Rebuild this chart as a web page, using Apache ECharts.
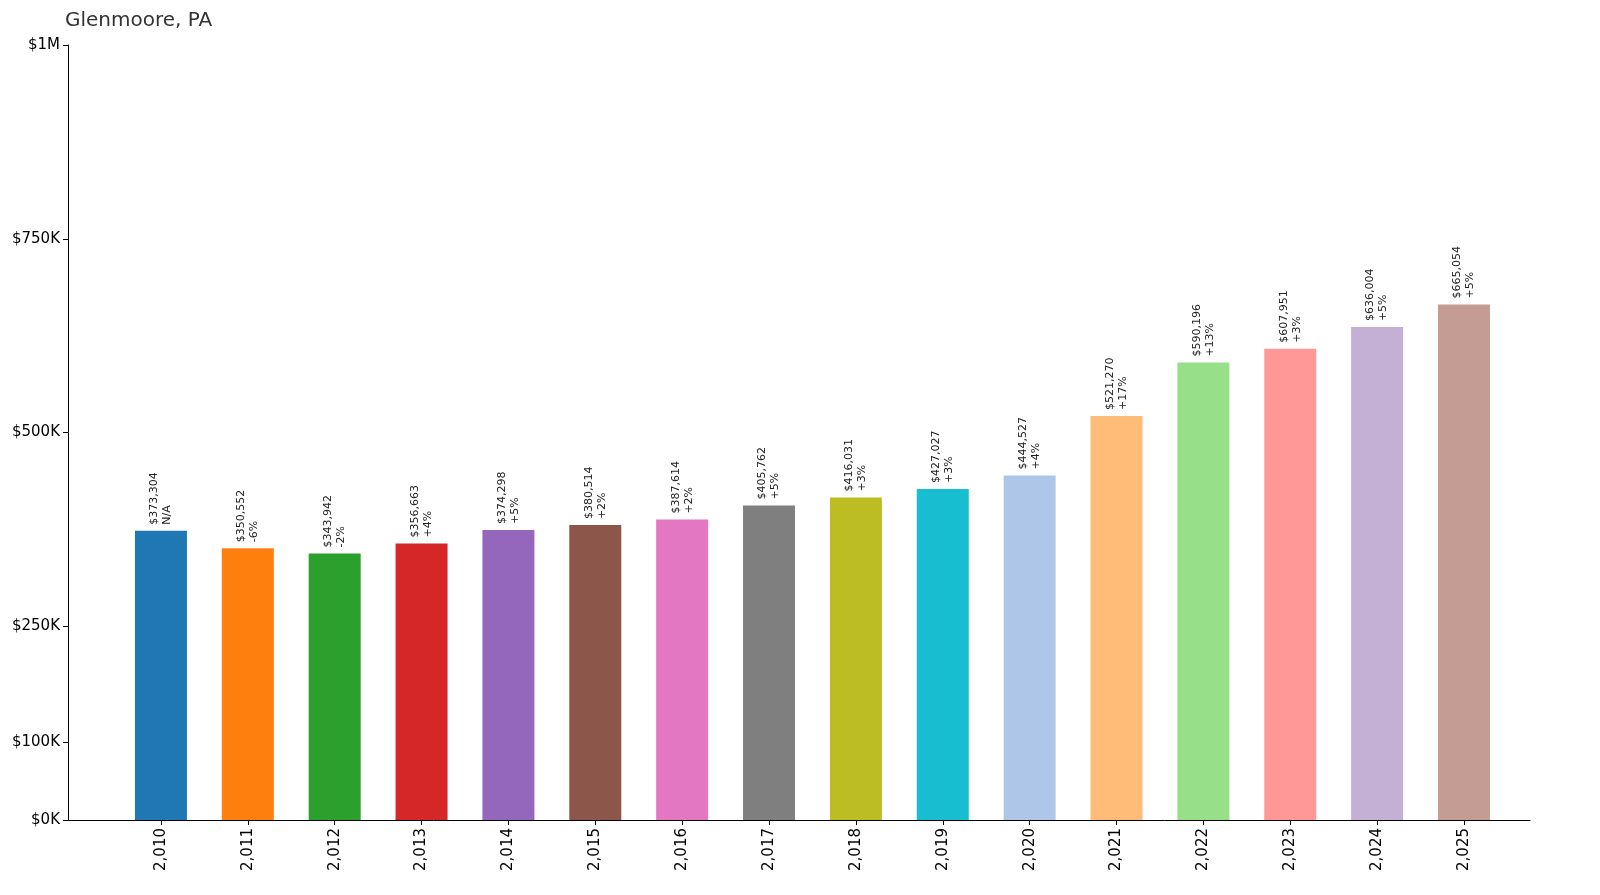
<!DOCTYPE html>
<html><head><meta charset="utf-8">
<script src="https://cdn.jsdelivr.net/npm/echarts@6/dist/echarts.min.js"></script>
<style>html,body{margin:0;padding:0;background:#fff}#c{width:1600px;height:895px}</style>
</head><body><div id="c"></div>
<script>
const years=[2010,2011,2012,2013,2014,2015,2016,2017,2018,2019,2020,2021,2022,2023,2024,2025];
const values=[373304,350552,343942,356663,374298,380514,387614,405762,416031,427027,444527,521270,590196,607951,636004,665054];
const changes=['N/A','-6%','-2%','+4%','+5%','+2%','+2%','+5%','+3%','+3%','+4%','+17%','+13%','+3%','+5%','+5%'];
const colors=['#1f77b4','#ff7f0e','#2ca02c','#d62728','#9467bd','#8c564b','#e377c2','#7f7f7f','#bcbd22','#17becf','#aec7e8','#ffbb78','#98df8a','#ff9896','#c5b0d5','#c49c94'];
const yTicks=[0,100000,250000,500000,750000,1000000];
const font='DejaVu Sans';
const chart=echarts.init(document.getElementById('c'));
chart.setOption({
 animation:false,
 title:{text:'Glenmoore, PA',left:60,top:6,textStyle:{fontFamily:font,fontSize:20,fontWeight:'normal',color:'#333'}},
 grid:{left:68,right:70,top:45,bottom:75},
 xAxis:{type:'value',min:2008.93,max:2025.76,splitLine:{show:false},
  axisLine:{show:true,lineStyle:{color:'#000'}},
  axisTick:{show:true,customValues:years,length:5,lineStyle:{color:'#000'}},
  axisLabel:{customValues:years,rotate:90,fontFamily:font,fontSize:15,color:'#000',margin:8}},
 yAxis:{type:'value',min:0,max:1000000,splitLine:{show:false},
  axisLine:{show:true,lineStyle:{color:'#000'}},
  axisTick:{show:true,customValues:yTicks,length:5,lineStyle:{color:'#000'}},
  axisLabel:{customValues:yTicks,fontFamily:font,fontSize:15,color:'#000',
   formatter:v=>v>=1000000?'$1M':'$'+(v/1000)+'K'}},
 series:[{type:'bar',barWidth:52,
  data:years.map((y,i)=>({value:[y,values[i]],itemStyle:{color:colors[i]},
   label:{show:true,position:'top',rotate:90,align:'left',verticalAlign:'middle',distance:6,
    fontFamily:font,fontSize:11,color:'#222',lineHeight:13,
    formatter:'$'+values[i].toLocaleString('en-US')+'\n'+changes[i]}}))}]
});
</script></body></html>
